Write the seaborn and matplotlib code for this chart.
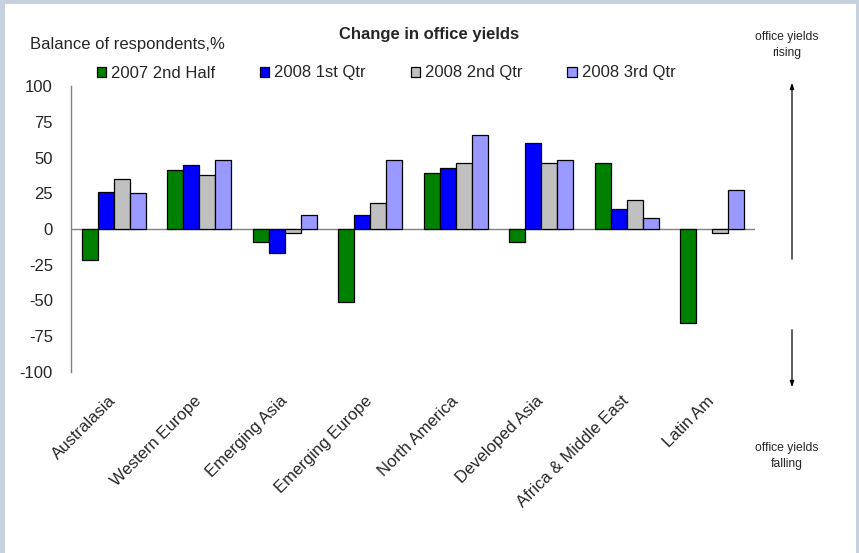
import matplotlib
matplotlib.use("Agg")
import matplotlib.pyplot as plt
import numpy as np
import pandas as pd
import seaborn as sns
from matplotlib.patches import Rectangle

# ── Data (balance of respondents, %) ─────────────────────────────────
REGIONS = ["Australasia", "Western Europe", "Emerging Asia", "Emerging Europe",
           "North America", "Developed Asia", "Africa & Middle East", "Latin Am"]
PERIODS = ["2007 2nd Half", "2008 1st Qtr", "2008 2nd Qtr", "2008 3rd Qtr"]

h2_2007 = [-22, 41, -9, -51, 39, -9, 46, -66]
q1_2008 = [26, 45, -17, 10, 43, 60, 14, np.nan]
q2_2008 = [35, 38, -3, 18, 46, 46, 20, -3]
q3_2008 = [25, 48, 10, 48, 66, 48, 8, 27]

COLORS = ["#008000", "#0000FF", "#C0C0C0", "#9999FF"]
BORDER = "#C5D1DC"


def build_frame():
    rows = []
    for period, vals in zip(PERIODS, [h2_2007, q1_2008, q2_2008, q3_2008]):
        for region, v in zip(REGIONS, vals):
            rows.append({"Region": region, "Period": period, "Value": v})
    return pd.DataFrame(rows)


def main():
    sns.set_style("white")
    plt.rcParams["font.family"] = ["Liberation Sans", "DejaVu Sans"]
    plt.rcParams["axes.unicode_minus"] = False

    df = build_frame()
    W, H = 859, 553
    fig = plt.figure(figsize=(W / 100, H / 100), dpi=100)
    fig.patch.set_facecolor(BORDER)
    fig.patches.append(Rectangle((5 / W, 0), (856 - 5) / W, 1 - 4 / H,
                                 transform=fig.transFigure, facecolor="white",
                                 edgecolor="none", zorder=-10))

    ax = fig.add_axes([71 / W, 1 - 372 / H, (755 - 71) / W, (372 - 86) / H])
    ax.set_facecolor("none")
    sns.barplot(data=df, x="Region", y="Value", hue="Period", order=REGIONS,
                hue_order=PERIODS, palette=COLORS, saturation=1, width=0.75,
                gap=0, edgecolor="black", linewidth=0.9, ax=ax)

    ax.set_ylim(-100, 100)
    ax.set_xlim(-0.5, len(REGIONS) - 0.5)
    ax.set_yticks(np.arange(-100, 101, 25))
    ax.axhline(0, color="#808080", lw=1, zorder=0)
    ax.set_xlabel("")
    ax.set_ylabel("")
    for s in ["top", "right", "bottom"]:
        ax.spines[s].set_visible(False)
    ax.spines["left"].set_color("#808080")
    ax.spines["left"].set_linewidth(1)
    ax.tick_params(axis="y", length=0, pad=13, labelsize=12)
    ax.tick_params(axis="x", length=0, pad=19, labelsize=12)
    ax.set_xticks(range(len(REGIONS)))
    ax.set_xticklabels(REGIONS, rotation=45, ha="right", va="center",
                       rotation_mode="anchor")

    handles, labels = ax.get_legend_handles_labels()
    ax.get_legend().remove()
    fig.legend(handles, labels, loc="center", bbox_to_anchor=(386 / W, 1 - 73 / H),
               ncol=4, frameon=False, fontsize=12, handlelength=0.55,
               handleheight=0.55, handletextpad=0.3, columnspacing=2.7)

    fig.text(429 / W, 1 - 35 / H, "Change in office yields", ha="center",
             va="center", fontsize=12, fontweight="bold")
    fig.text(30 / W, 1 - 45 / H, "Balance of respondents,%", ha="left",
             va="center", fontsize=12)
    fig.text(787 / W, 1 - 45 / H, "office yields\nrising", ha="center",
             va="center", fontsize=8.7, linespacing=1.35)
    fig.text(787 / W, 1 - 456 / H, "office yields\nfalling", ha="center",
             va="center", fontsize=8.7, linespacing=1.35)

    arrow = dict(arrowstyle="-|>,head_length=0.35,head_width=0.12",
                 color="black", lw=0.9)
    ax.annotate("", xy=(792 / W, 1 - 80 / H), xytext=(792 / W, 1 - 262 / H),
                xycoords="figure fraction", textcoords="figure fraction",
                arrowprops=arrow, annotation_clip=False)
    ax.annotate("", xy=(792 / W, 1 - 390 / H), xytext=(792 / W, 1 - 327 / H),
                xycoords="figure fraction", textcoords="figure fraction",
                arrowprops=arrow, annotation_clip=False)

    fig.savefig("out.png", dpi=100, facecolor=fig.get_facecolor())
    plt.close(fig)


if __name__ == "__main__":
    main()
